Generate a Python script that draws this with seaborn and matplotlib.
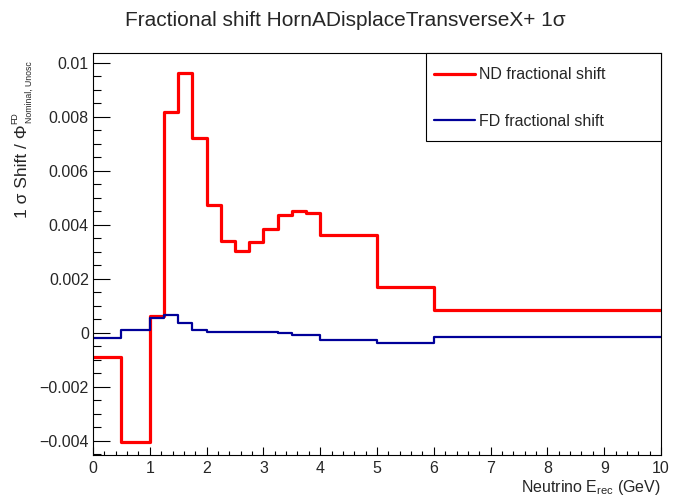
import numpy as np
import pandas as pd
import matplotlib
matplotlib.use("Agg")
import matplotlib.pyplot as plt
from matplotlib.patches import Rectangle
import seaborn as sns

# ---- data ----
bin_edges = [0.0, 0.5, 1.0, 1.25, 1.5, 1.75, 2.0, 2.25, 2.5, 2.75, 3.0,
             3.25, 3.5, 3.75, 4.0, 5.0, 6.0, 10.0]
nd_shift = [-0.00091, -0.00405, 0.00064, 0.00817, 0.00964, 0.00721, 0.00472,
            0.00340, 0.00302, 0.00335, 0.00386, 0.00435, 0.00451, 0.00443,
            0.00363, 0.00168, 0.00083]
fd_shift = [-0.00019, 0.00010, 0.00053, 0.00066, 0.00037, 0.00011, 0.00002,
            0.00002, 0.00002, 0.00002, 0.00002, -0.00002, -0.00007, -0.00010,
            -0.00026, -0.00037, -0.00014]
series_names = ["ND fractional shift", "FD fractional shift"]
x_ticks = [0, 1, 2, 3, 4, 5, 6, 7, 8, 9, 10]
y_ticks = [-0.004, -0.002, 0, 0.002, 0.004, 0.006, 0.008, 0.01]
y_tick_labels = ["\u22120.004", "\u22120.002", "0", "0.002", "0.004", "0.006", "0.008", "0.01"]

sns.set_style("white")
plt.rcParams["font.family"] = ["Liberation Sans", "DejaVu Sans"]
plt.rcParams["mathtext.fontset"] = "custom"
plt.rcParams["mathtext.rm"] = "Liberation Sans"
plt.rcParams["mathtext.it"] = "Liberation Sans:italic"
plt.rcParams["mathtext.bf"] = "Liberation Sans:bold"


def step_frame(values, name):
    return pd.DataFrame({
        "E": bin_edges,
        "shift": list(values) + [values[-1]],
        "series": name,
    })


df_nd = step_frame(nd_shift, series_names[0])
df_fd = step_frame(fd_shift, series_names[1])

fig = plt.figure(figsize=(6.75, 4.97), dpi=100)
ax = fig.add_axes([93 / 675, 42 / 497, 568 / 675, 402 / 497])

sns.lineplot(data=df_nd, x="E", y="shift", color="#ff0000", linewidth=2.3,
             drawstyle="steps-post", estimator=None, sort=False,
             label=series_names[0], ax=ax)
sns.lineplot(data=df_fd, x="E", y="shift", color="#000099", linewidth=1.6,
             drawstyle="steps-post", estimator=None, sort=False,
             label=series_names[1], ax=ax)

ax.set_xlim(0, 10)
ax.set_ylim(-0.00453, 0.01037)

ax.set_xticks(x_ticks)
ax.set_xticklabels([str(t) for t in x_ticks])
ax.set_xticks(np.arange(0, 10.01, 0.2), minor=True)
ax.set_yticks(y_ticks)
ax.set_yticklabels(y_tick_labels)
ax.set_yticks(np.arange(-0.0045, 0.01037, 0.0005), minor=True)

ax.tick_params(axis="x", which="major", direction="in", length=6, width=0.8,
               labelsize=11.5, pad=4.5, bottom=True, top=False, color="black")
ax.tick_params(axis="x", which="minor", direction="in", length=3, width=0.8,
               bottom=True, top=False, color="black")
ax.tick_params(axis="y", which="major", direction="in", length=12, width=0.8,
               labelsize=11.5, pad=3, left=True, right=False, color="black")
ax.tick_params(axis="y", which="minor", direction="in", length=6, width=0.8,
               left=True, right=False, color="black")

for sp in ax.spines.values():
    sp.set_color("black")
    sp.set_linewidth(0.8)

ax.set_xlabel(r"Neutrino E$_{\rm rec}$ (GeV)", fontsize=11.5, loc="right")
ax.xaxis.set_label_coords(1.0, -0.057)
ax.xaxis.label.set_va("top")

# y title: main part as the axis label, ROOT-style small super/subscripts
ax.set_ylabel("1 \u03c3 Shift / \u03a6", fontsize=12.5, loc="bottom")
ax.yaxis.label.set_va("baseline")
ax.yaxis.set_label_coords((27 - 93) / 568, (455 - 218) / 402)
fig.text(17 / 675, 1 - 124 / 497, "FD", rotation=90, rotation_mode="anchor",
         ha="left", va="baseline", fontsize=6.3)
fig.text(31.5 / 675, 1 - 123 / 497, "Nominal, Unosc", rotation=90,
         rotation_mode="anchor", ha="left", va="baseline", fontsize=6.3)

# legend box (ROOT-style TLegend)
ax.add_patch(Rectangle((0.586, 0.781), 0.414, 0.219, transform=ax.transAxes,
                       facecolor="white", edgecolor="black", linewidth=0.8,
                       zorder=4, clip_on=False))
leg = ax.legend(loc="center left", bbox_to_anchor=(0.600, 0.888),
                borderaxespad=0, borderpad=0, frameon=False, fontsize=11.5,
                handlelength=2.56, handletextpad=0.3, labelspacing=1.95)
leg.set_zorder(5)

fig.text(345 / 675, 1 - 20 / 497, "Fractional shift HornADisplaceTransverseX+ 1\u03c3",
         ha="center", va="center", fontsize=15)

fig.savefig("out.png", dpi=100)
